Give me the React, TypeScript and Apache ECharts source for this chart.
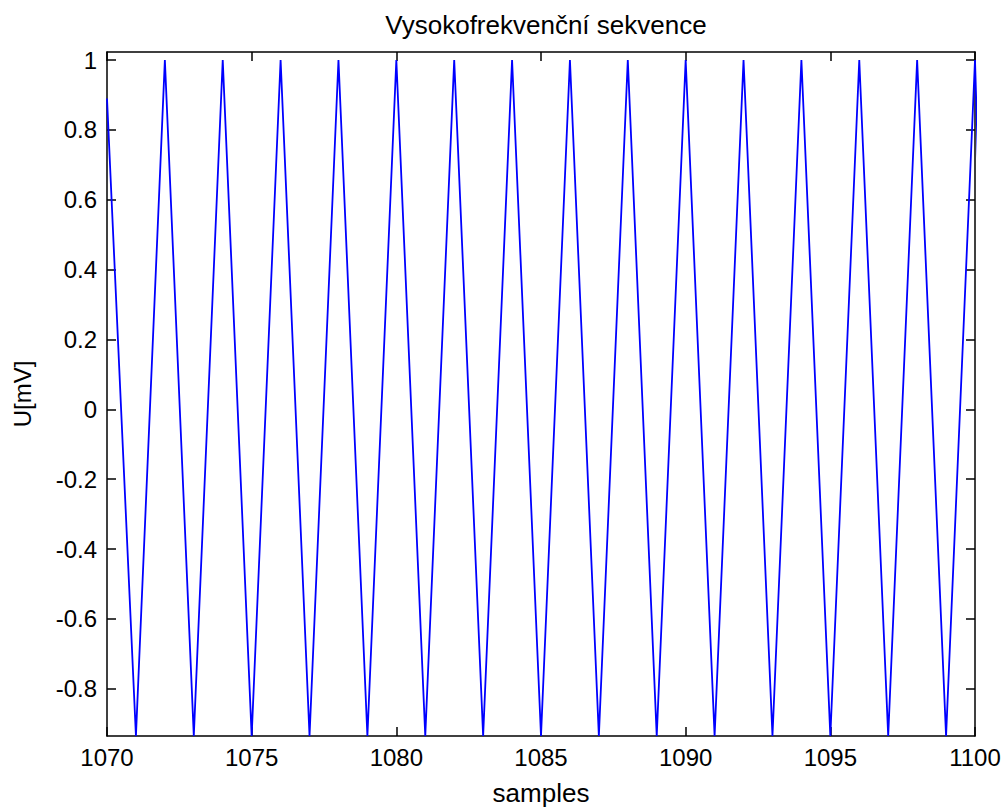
import React, { useEffect, useRef } from "react";
import * as echarts from "echarts";

// samples (x) and voltage values (y)
const sampleX = [
  1070, 1071, 1072, 1073, 1074, 1075, 1076, 1077, 1078, 1079, 1080,
  1081, 1082, 1083, 1084, 1085, 1086, 1087, 1088, 1089, 1090,
  1091, 1092, 1093, 1094, 1095, 1096, 1097, 1098, 1099, 1100, 1100.1,
];
const voltage = [
  0.89, -0.935, 1, -0.935, 1, -0.935, 1, -0.935, 1, -0.935, 1,
  -0.935, 1, -0.935, 1, -0.935, 1, -0.935, 1, -0.935, 1,
  -0.935, 1, -0.935, 1, -0.935, 1, -0.935, 1, -0.935, 1, 0.72,
];
const xTicks = [1070, 1075, 1080, 1085, 1090, 1095, 1100];
const yTicks = [-0.8, -0.6, -0.4, -0.2, 0, 0.2, 0.4, 0.6, 0.8, 1];

const TITLE = "Vysokofrekvenční sekvence";
const X_NAME = "samples";
const Y_NAME = "U[mV]";

const FONT = "'Liberation Sans', Arial, sans-serif";

export default function App() {
  const ref = useRef<HTMLDivElement>(null);
  useEffect(() => {
    if (!ref.current) return;
    const chart = echarts.init(ref.current, undefined, { renderer: "svg" });
    const data = sampleX.map((x, i) => [x, voltage[i]]);
    const axisLine = { onZero: false, lineStyle: { color: "#000", width: 1.5 } };
    const tick = { inside: true, length: 9, lineStyle: { color: "#000", width: 1.5 } };
    const fmtY = (v: number) => String(Number(v.toFixed(1)));
    const fmtX = (v: number) => String(Math.round(v));
    chart.setOption({
      animation: false,
      backgroundColor: "#fff",
      title: {
        text: TITLE,
        left: 541,
        top: 7,
        textAlign: "center",
        textStyle: { fontFamily: FONT, fontSize: 26, fontWeight: "normal", color: "#000" },
      },
      grid: { left: 107, right: 28, top: 52, bottom: 71, containLabel: false, outerBoundsMode: "none" },
      xAxis: [
        {
          type: "value",
          min: 1070,
          max: 1100,
          interval: 5,
          position: "bottom",
          axisLine,
          axisTick: { ...tick, customValues: xTicks },
          axisLabel: { customValues: xTicks, formatter: fmtX, color: "#000", fontSize: 24, fontFamily: FONT, margin: 9 },
          splitLine: { show: false },
          name: X_NAME,
          nameLocation: "middle",
          nameGap: 44,
          nameTextStyle: { color: "#000", fontSize: 26, fontFamily: FONT },
        },
        {
          type: "value",
          min: 1070,
          max: 1100,
          interval: 5,
          position: "top",
          axisLine,
          axisTick: { ...tick, customValues: xTicks },
          axisLabel: { show: false },
          splitLine: { show: false },
        },
      ],
      yAxis: [
        {
          type: "value",
          min: -0.935,
          max: 1.023,
          position: "left",
          axisLine,
          axisTick: { ...tick, customValues: yTicks },
          axisLabel: { customValues: yTicks, formatter: fmtY, color: "#000", fontSize: 24, fontFamily: FONT, margin: 10 },
          splitLine: { show: false },
          name: Y_NAME,
          nameLocation: "middle",
          nameGap: 73,
          nameRotate: 90,
          nameTextStyle: { color: "#000", fontSize: 24, fontFamily: FONT },
        },
        {
          type: "value",
          min: -0.935,
          max: 1.023,
          position: "right",
          axisLine,
          axisTick: { ...tick, customValues: yTicks },
          axisLabel: { show: false },
          splitLine: { show: false },
        },
      ],
      series: [
        {
          type: "line",
          data,
          xAxisIndex: 0,
          yAxisIndex: 0,
          symbol: "none",
          showSymbol: false,
          clip: false,
          lineStyle: { color: "#0000ff", width: 1.8 },
        },
      ],
    });
    return () => chart.dispose();
  }, []);
  return (
    <div
      ref={ref}
      style={{ position: "fixed", left: 0, top: 0, width: 1003, height: 807, background: "#fff" }}
    />
  );
}
